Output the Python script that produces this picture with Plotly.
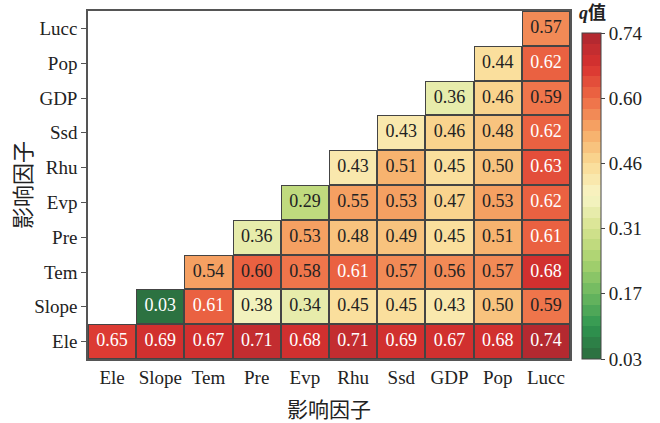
import numpy as np
import plotly.graph_objects as go
import plotly.colors as pc

factors = ["Ele", "Slope", "Tem", "Pre", "Evp", "Rhu", "Ssd", "GDP", "Pop", "Lucc"]

# each row starts at its own diagonal column
row_ele = [0.65, 0.69, 0.67, 0.71, 0.68, 0.71, 0.69, 0.67, 0.68, 0.74]
row_slope = [0.03, 0.61, 0.38, 0.34, 0.45, 0.45, 0.43, 0.50, 0.59]
row_tem = [0.54, 0.60, 0.58, 0.61, 0.57, 0.56, 0.57, 0.68]
row_pre = [0.36, 0.53, 0.48, 0.49, 0.45, 0.51, 0.61]
row_evp = [0.29, 0.55, 0.53, 0.47, 0.53, 0.62]
row_rhu = [0.43, 0.51, 0.45, 0.50, 0.63]
row_ssd = [0.43, 0.46, 0.48, 0.62]
row_gdp = [0.36, 0.46, 0.59]
row_pop = [0.44, 0.62]
row_lucc = [0.57]

cbar_tickvals = [0.03, 0.172, 0.314, 0.456, 0.598, 0.74]
cbar_ticktext = ["0.03", "0.17", "0.31", "0.46", "0.60", "0.74"]

axis_title = "影响因子"

rows = [row_ele, row_slope, row_tem, row_pre, row_evp, row_rhu, row_ssd, row_gdp, row_pop, row_lucc]
n = len(factors)
z = [[None] * n for _ in range(n)]
mask = [[None] * n for _ in range(n)]
tx, ty, tt, tc = [], [], [], []
for i, r in enumerate(rows):
    for k, v in enumerate(r):
        j = i + k
        z[i][j] = v
        mask[i][j] = 1
        tx.append(factors[j]); ty.append(factors[i]); tt.append(f"{v:.2f}")
        tc.append("white" if (v >= 0.605 or v < 0.1) else "#222222")

base = ['#2b6b3e', '#2f9650', '#6cb860', '#a9d26e', '#d6e38f', '#f8f5c6',
        '#fadb95', '#f6ab68', '#ee6a45', '#d8322f', '#ad2730']
base_cs = [[k / (len(base) - 1), c] for k, c in enumerate(base)]
nb = 30
cs = []
for k in range(nb):
    c = pc.sample_colorscale(base_cs, (k + 0.5) / nb)[0]
    cs.append([k / nb, c])
    cs.append([(k + 1) / nb, c])

SERIF = "Liberation Serif"
CJK = "Noto Sans CJK SC"
fig = go.Figure()
fig.add_trace(go.Heatmap(x=factors, y=factors, z=mask, colorscale=[[0, "#444444"], [1, "#444444"]],
                         showscale=False, hoverinfo="skip"))
fig.add_trace(go.Heatmap(
    x=factors, y=factors, z=z, colorscale=cs, zmin=0.03, zmax=0.74, xgap=2, ygap=2,
    colorbar=dict(
        tickvals=cbar_tickvals, ticktext=cbar_ticktext, ticks="outside", ticklen=4,
        tickcolor="#444",
        tickfont=dict(size=19, family=SERIF, color="#222"),
        thickness=19, lenmode="pixels", len=326, y=0, yanchor="bottom",
        x=1.0, xanchor="left", xpad=12, ypad=0, outlinewidth=1, outlinecolor="#444",
    ),
))
fig.add_trace(go.Scatter(x=tx, y=ty, text=tt, mode="text", hoverinfo="skip", showlegend=False,
                         textfont=dict(size=18, family=SERIF, color=tc)))

fig.add_annotation(text="<b><i>q</i>值</b>", xref="paper", yref="paper", x=1.014, y=0.994,
                   xanchor="left", yanchor="middle", showarrow=False,
                   font=dict(size=18, family=SERIF + ", " + CJK, color="#222"))
fig.add_annotation(text=axis_title, xref="paper", yref="paper", x=0.5, y=-0.141,
                   xanchor="center", yanchor="middle", showarrow=False,
                   font=dict(size=21, family=CJK, color="#222"))
fig.add_annotation(text=axis_title, xref="paper", yref="paper", x=-0.139, y=0.5,
                   xanchor="center", yanchor="middle", showarrow=False, textangle=-90,
                   font=dict(size=22, family=CJK, color="#222"))

fig.update_layout(
    width=660, height=423, margin=dict(l=88, r=90, t=11, b=64, autoexpand=False),
    plot_bgcolor="white", paper_bgcolor="white",
    xaxis=dict(tickfont=dict(size=19, family=SERIF, color="#222"), ticks="",
               showline=True, linecolor="#555", linewidth=1.5, mirror=True, showgrid=False, zeroline=False),
    yaxis=dict(tickfont=dict(size=19, family=SERIF, color="#222"), ticks="outside", ticklen=5,
               tickcolor="#555",
               showline=True, linecolor="#555", linewidth=1.5, mirror=True, showgrid=False, zeroline=False),
)
fig.write_html("out.html", post_script="document.body.style.margin='0px';",
               config={"displayModeBar": False})
